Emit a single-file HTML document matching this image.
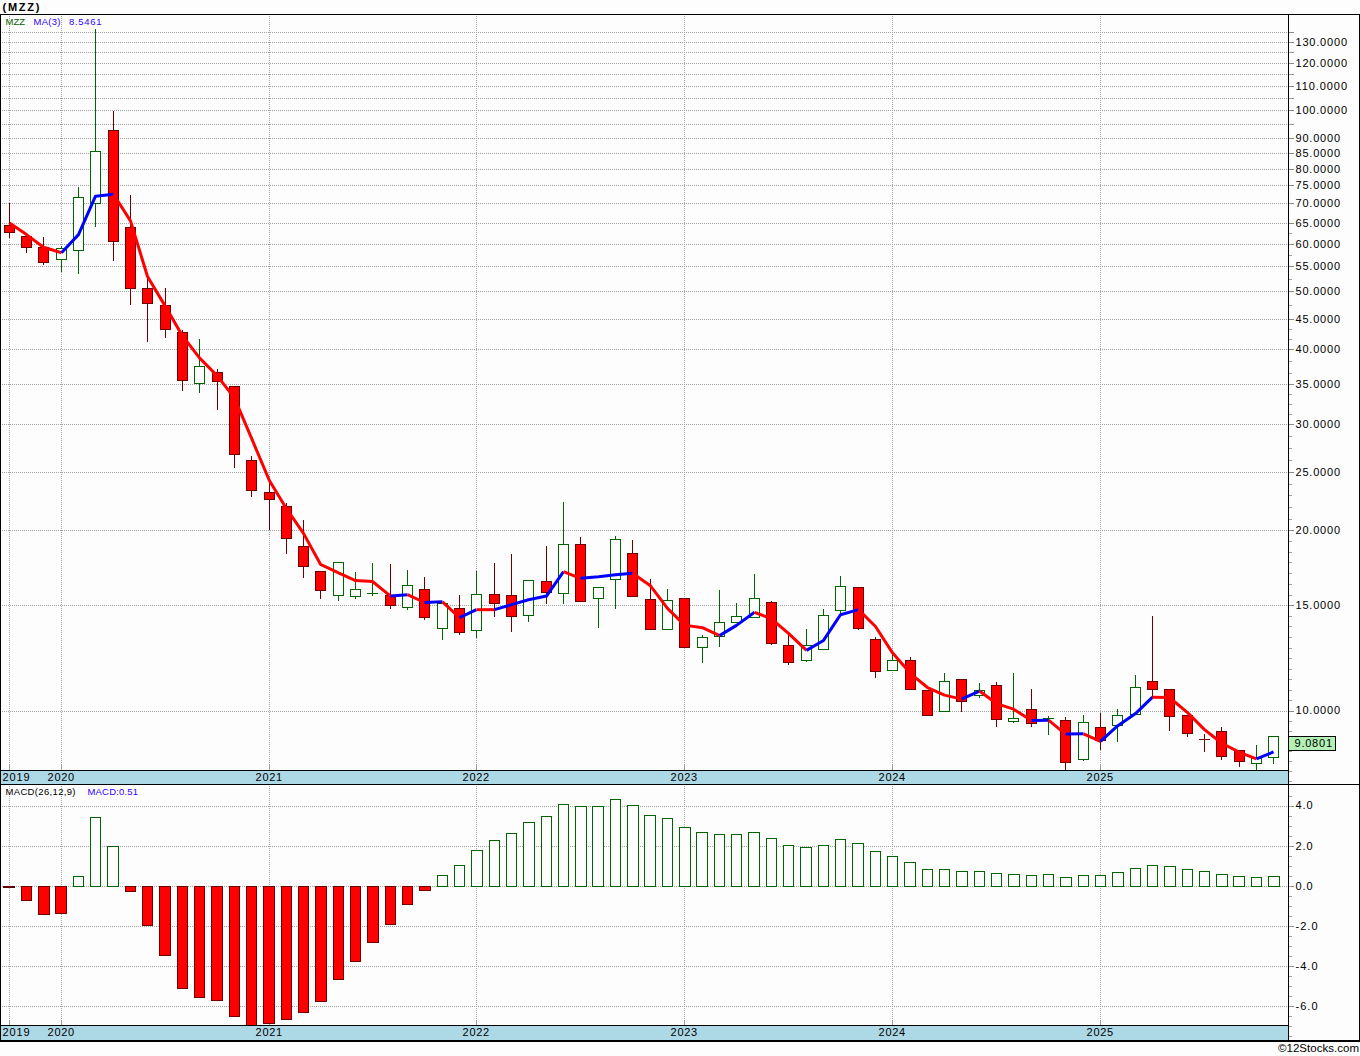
<!DOCTYPE html>
<html><head><meta charset="utf-8"><title>MZZ</title>
<style>html,body{margin:0;padding:0;background:#fdfdfd;}body{width:1360px;height:1056px;overflow:hidden;font-family:"Liberation Sans",sans-serif;}</style>
</head><body>
<svg width="1360" height="1056" viewBox="0 0 1360 1056" style="display:block;font-family:'Liberation Sans',sans-serif">
<rect x="0" y="0" width="1360" height="1056" fill="#fdfdfd"/>
<g shape-rendering="crispEdges">
<line x1="2" x2="1288" y1="711.5" y2="711.5" stroke="#a4a4a4" stroke-width="1" stroke-dasharray="1 1"/>
<line x1="1289" x2="1294" y1="711.5" y2="711.5" stroke="#8c8c8c" stroke-width="1"/>
<line x1="2" x2="1288" y1="605.5" y2="605.5" stroke="#a4a4a4" stroke-width="1" stroke-dasharray="1 1"/>
<line x1="1289" x2="1294" y1="605.5" y2="605.5" stroke="#8c8c8c" stroke-width="1"/>
<line x1="2" x2="1288" y1="530.5" y2="530.5" stroke="#a4a4a4" stroke-width="1" stroke-dasharray="1 1"/>
<line x1="1289" x2="1294" y1="530.5" y2="530.5" stroke="#8c8c8c" stroke-width="1"/>
<line x1="2" x2="1288" y1="472.5" y2="472.5" stroke="#a4a4a4" stroke-width="1" stroke-dasharray="1 1"/>
<line x1="1289" x2="1294" y1="472.5" y2="472.5" stroke="#8c8c8c" stroke-width="1"/>
<line x1="2" x2="1288" y1="424.5" y2="424.5" stroke="#a4a4a4" stroke-width="1" stroke-dasharray="1 1"/>
<line x1="1289" x2="1294" y1="424.5" y2="424.5" stroke="#8c8c8c" stroke-width="1"/>
<line x1="2" x2="1288" y1="384.5" y2="384.5" stroke="#a4a4a4" stroke-width="1" stroke-dasharray="1 1"/>
<line x1="1289" x2="1294" y1="384.5" y2="384.5" stroke="#8c8c8c" stroke-width="1"/>
<line x1="2" x2="1288" y1="349.5" y2="349.5" stroke="#a4a4a4" stroke-width="1" stroke-dasharray="1 1"/>
<line x1="1289" x2="1294" y1="349.5" y2="349.5" stroke="#8c8c8c" stroke-width="1"/>
<line x1="2" x2="1288" y1="319.5" y2="319.5" stroke="#a4a4a4" stroke-width="1" stroke-dasharray="1 1"/>
<line x1="1289" x2="1294" y1="319.5" y2="319.5" stroke="#8c8c8c" stroke-width="1"/>
<line x1="2" x2="1288" y1="291.5" y2="291.5" stroke="#a4a4a4" stroke-width="1" stroke-dasharray="1 1"/>
<line x1="1289" x2="1294" y1="291.5" y2="291.5" stroke="#8c8c8c" stroke-width="1"/>
<line x1="2" x2="1288" y1="266.5" y2="266.5" stroke="#a4a4a4" stroke-width="1" stroke-dasharray="1 1"/>
<line x1="1289" x2="1294" y1="266.5" y2="266.5" stroke="#8c8c8c" stroke-width="1"/>
<line x1="2" x2="1288" y1="244.5" y2="244.5" stroke="#a4a4a4" stroke-width="1" stroke-dasharray="1 1"/>
<line x1="1289" x2="1294" y1="244.5" y2="244.5" stroke="#8c8c8c" stroke-width="1"/>
<line x1="2" x2="1288" y1="223.5" y2="223.5" stroke="#a4a4a4" stroke-width="1" stroke-dasharray="1 1"/>
<line x1="1289" x2="1294" y1="223.5" y2="223.5" stroke="#8c8c8c" stroke-width="1"/>
<line x1="2" x2="1288" y1="203.5" y2="203.5" stroke="#a4a4a4" stroke-width="1" stroke-dasharray="1 1"/>
<line x1="1289" x2="1294" y1="203.5" y2="203.5" stroke="#8c8c8c" stroke-width="1"/>
<line x1="2" x2="1288" y1="185.5" y2="185.5" stroke="#a4a4a4" stroke-width="1" stroke-dasharray="1 1"/>
<line x1="1289" x2="1294" y1="185.5" y2="185.5" stroke="#8c8c8c" stroke-width="1"/>
<line x1="2" x2="1288" y1="169.5" y2="169.5" stroke="#a4a4a4" stroke-width="1" stroke-dasharray="1 1"/>
<line x1="1289" x2="1294" y1="169.5" y2="169.5" stroke="#8c8c8c" stroke-width="1"/>
<line x1="2" x2="1288" y1="153.5" y2="153.5" stroke="#a4a4a4" stroke-width="1" stroke-dasharray="1 1"/>
<line x1="1289" x2="1294" y1="153.5" y2="153.5" stroke="#8c8c8c" stroke-width="1"/>
<line x1="2" x2="1288" y1="138.5" y2="138.5" stroke="#a4a4a4" stroke-width="1" stroke-dasharray="1 1"/>
<line x1="1289" x2="1294" y1="138.5" y2="138.5" stroke="#8c8c8c" stroke-width="1"/>
<line x1="2" x2="1288" y1="124.5" y2="124.5" stroke="#a4a4a4" stroke-width="1" stroke-dasharray="1 1"/>
<line x1="1289" x2="1294" y1="124.5" y2="124.5" stroke="#8c8c8c" stroke-width="1"/>
<line x1="2" x2="1288" y1="110.5" y2="110.5" stroke="#a4a4a4" stroke-width="1" stroke-dasharray="1 1"/>
<line x1="1289" x2="1294" y1="110.5" y2="110.5" stroke="#8c8c8c" stroke-width="1"/>
<line x1="2" x2="1288" y1="98.5" y2="98.5" stroke="#a4a4a4" stroke-width="1" stroke-dasharray="1 1"/>
<line x1="1289" x2="1294" y1="98.5" y2="98.5" stroke="#8c8c8c" stroke-width="1"/>
<line x1="2" x2="1288" y1="86.5" y2="86.5" stroke="#a4a4a4" stroke-width="1" stroke-dasharray="1 1"/>
<line x1="1289" x2="1294" y1="86.5" y2="86.5" stroke="#8c8c8c" stroke-width="1"/>
<line x1="2" x2="1288" y1="74.5" y2="74.5" stroke="#a4a4a4" stroke-width="1" stroke-dasharray="1 1"/>
<line x1="1289" x2="1294" y1="74.5" y2="74.5" stroke="#8c8c8c" stroke-width="1"/>
<line x1="2" x2="1288" y1="63.5" y2="63.5" stroke="#a4a4a4" stroke-width="1" stroke-dasharray="1 1"/>
<line x1="1289" x2="1294" y1="63.5" y2="63.5" stroke="#8c8c8c" stroke-width="1"/>
<line x1="2" x2="1288" y1="52.5" y2="52.5" stroke="#a4a4a4" stroke-width="1" stroke-dasharray="1 1"/>
<line x1="1289" x2="1294" y1="52.5" y2="52.5" stroke="#8c8c8c" stroke-width="1"/>
<line x1="2" x2="1288" y1="42.5" y2="42.5" stroke="#a4a4a4" stroke-width="1" stroke-dasharray="1 1"/>
<line x1="1289" x2="1294" y1="42.5" y2="42.5" stroke="#8c8c8c" stroke-width="1"/>
<line x1="2" x2="1288" y1="32.5" y2="32.5" stroke="#a4a4a4" stroke-width="1" stroke-dasharray="1 1"/>
<line x1="1289" x2="1294" y1="32.5" y2="32.5" stroke="#8c8c8c" stroke-width="1"/>
<line x1="2" x2="1288" y1="806.5" y2="806.5" stroke="#a4a4a4" stroke-width="1" stroke-dasharray="1 1"/>
<line x1="1289" x2="1294" y1="806.5" y2="806.5" stroke="#8c8c8c" stroke-width="1"/>
<line x1="2" x2="1288" y1="846.5" y2="846.5" stroke="#a4a4a4" stroke-width="1" stroke-dasharray="1 1"/>
<line x1="1289" x2="1294" y1="846.5" y2="846.5" stroke="#8c8c8c" stroke-width="1"/>
<line x1="2" x2="1288" y1="886.5" y2="886.5" stroke="#a4a4a4" stroke-width="1" stroke-dasharray="1 1"/>
<line x1="1289" x2="1294" y1="886.5" y2="886.5" stroke="#8c8c8c" stroke-width="1"/>
<line x1="2" x2="1288" y1="926.5" y2="926.5" stroke="#a4a4a4" stroke-width="1" stroke-dasharray="1 1"/>
<line x1="1289" x2="1294" y1="926.5" y2="926.5" stroke="#8c8c8c" stroke-width="1"/>
<line x1="2" x2="1288" y1="966.5" y2="966.5" stroke="#a4a4a4" stroke-width="1" stroke-dasharray="1 1"/>
<line x1="1289" x2="1294" y1="966.5" y2="966.5" stroke="#8c8c8c" stroke-width="1"/>
<line x1="2" x2="1288" y1="1006.5" y2="1006.5" stroke="#a4a4a4" stroke-width="1" stroke-dasharray="1 1"/>
<line x1="1289" x2="1294" y1="1006.5" y2="1006.5" stroke="#8c8c8c" stroke-width="1"/>
<line x1="9.5" x2="9.5" y1="16" y2="770" stroke="#a4a4a4" stroke-width="1" stroke-dasharray="1 1"/>
<line x1="9.5" x2="9.5" y1="786" y2="1025" stroke="#a4a4a4" stroke-width="1" stroke-dasharray="1 1"/>
<line x1="9.5" x2="9.5" y1="765" y2="770" stroke="#a0a0a0" stroke-width="1"/>
<line x1="9.5" x2="9.5" y1="1020" y2="1025" stroke="#a0a0a0" stroke-width="1"/>
<line x1="61.5" x2="61.5" y1="16" y2="770" stroke="#a4a4a4" stroke-width="1" stroke-dasharray="1 1"/>
<line x1="61.5" x2="61.5" y1="786" y2="1025" stroke="#a4a4a4" stroke-width="1" stroke-dasharray="1 1"/>
<line x1="61.5" x2="61.5" y1="765" y2="770" stroke="#a0a0a0" stroke-width="1"/>
<line x1="61.5" x2="61.5" y1="1020" y2="1025" stroke="#a0a0a0" stroke-width="1"/>
<line x1="269.5" x2="269.5" y1="16" y2="770" stroke="#a4a4a4" stroke-width="1" stroke-dasharray="1 1"/>
<line x1="269.5" x2="269.5" y1="786" y2="1025" stroke="#a4a4a4" stroke-width="1" stroke-dasharray="1 1"/>
<line x1="269.5" x2="269.5" y1="765" y2="770" stroke="#a0a0a0" stroke-width="1"/>
<line x1="269.5" x2="269.5" y1="1020" y2="1025" stroke="#a0a0a0" stroke-width="1"/>
<line x1="476.5" x2="476.5" y1="16" y2="770" stroke="#a4a4a4" stroke-width="1" stroke-dasharray="1 1"/>
<line x1="476.5" x2="476.5" y1="786" y2="1025" stroke="#a4a4a4" stroke-width="1" stroke-dasharray="1 1"/>
<line x1="476.5" x2="476.5" y1="765" y2="770" stroke="#a0a0a0" stroke-width="1"/>
<line x1="476.5" x2="476.5" y1="1020" y2="1025" stroke="#a0a0a0" stroke-width="1"/>
<line x1="684.5" x2="684.5" y1="16" y2="770" stroke="#a4a4a4" stroke-width="1" stroke-dasharray="1 1"/>
<line x1="684.5" x2="684.5" y1="786" y2="1025" stroke="#a4a4a4" stroke-width="1" stroke-dasharray="1 1"/>
<line x1="684.5" x2="684.5" y1="765" y2="770" stroke="#a0a0a0" stroke-width="1"/>
<line x1="684.5" x2="684.5" y1="1020" y2="1025" stroke="#a0a0a0" stroke-width="1"/>
<line x1="892.5" x2="892.5" y1="16" y2="770" stroke="#a4a4a4" stroke-width="1" stroke-dasharray="1 1"/>
<line x1="892.5" x2="892.5" y1="786" y2="1025" stroke="#a4a4a4" stroke-width="1" stroke-dasharray="1 1"/>
<line x1="892.5" x2="892.5" y1="765" y2="770" stroke="#a0a0a0" stroke-width="1"/>
<line x1="892.5" x2="892.5" y1="1020" y2="1025" stroke="#a0a0a0" stroke-width="1"/>
<line x1="1100.5" x2="1100.5" y1="16" y2="770" stroke="#a4a4a4" stroke-width="1" stroke-dasharray="1 1"/>
<line x1="1100.5" x2="1100.5" y1="786" y2="1025" stroke="#a4a4a4" stroke-width="1" stroke-dasharray="1 1"/>
<line x1="1100.5" x2="1100.5" y1="765" y2="770" stroke="#a0a0a0" stroke-width="1"/>
<line x1="1100.5" x2="1100.5" y1="1020" y2="1025" stroke="#a0a0a0" stroke-width="1"/>
</g>
<g shape-rendering="crispEdges">
<rect x="3" y="886" width="12" height="2" fill="#600000"/>
<rect x="21.5" y="886.5" width="10" height="14" fill="#ff0000" stroke="#700000" stroke-width="1"/>
<rect x="38.5" y="886.5" width="11" height="28" fill="#ff0000" stroke="#700000" stroke-width="1"/>
<rect x="55.5" y="886.5" width="11" height="27" fill="#ff0000" stroke="#700000" stroke-width="1"/>
<rect x="73.5" y="876.5" width="10" height="10" fill="#fdfdfd" stroke="#006400" stroke-width="1"/>
<rect x="90.5" y="817.5" width="10" height="69" fill="#fdfdfd" stroke="#006400" stroke-width="1"/>
<rect x="107.5" y="846.5" width="11" height="40" fill="#fdfdfd" stroke="#006400" stroke-width="1"/>
<rect x="125.5" y="886.5" width="10" height="5" fill="#ff0000" stroke="#700000" stroke-width="1"/>
<rect x="142.5" y="886.5" width="10" height="39" fill="#ff0000" stroke="#700000" stroke-width="1"/>
<rect x="159.5" y="886.5" width="11" height="69" fill="#ff0000" stroke="#700000" stroke-width="1"/>
<rect x="177.5" y="886.5" width="10" height="102" fill="#ff0000" stroke="#700000" stroke-width="1"/>
<rect x="194.5" y="886.5" width="10" height="111" fill="#ff0000" stroke="#700000" stroke-width="1"/>
<rect x="211.5" y="886.5" width="11" height="114" fill="#ff0000" stroke="#700000" stroke-width="1"/>
<rect x="229.5" y="886.5" width="10" height="130" fill="#ff0000" stroke="#700000" stroke-width="1"/>
<rect x="246.5" y="886.5" width="10" height="140" fill="#ff0000" stroke="#700000" stroke-width="1"/>
<rect x="263.5" y="886.5" width="11" height="137" fill="#ff0000" stroke="#700000" stroke-width="1"/>
<rect x="281.5" y="886.5" width="10" height="133" fill="#ff0000" stroke="#700000" stroke-width="1"/>
<rect x="298.5" y="886.5" width="10" height="126" fill="#ff0000" stroke="#700000" stroke-width="1"/>
<rect x="315.5" y="886.5" width="11" height="115" fill="#ff0000" stroke="#700000" stroke-width="1"/>
<rect x="333.5" y="886.5" width="10" height="93" fill="#ff0000" stroke="#700000" stroke-width="1"/>
<rect x="350.5" y="886.5" width="10" height="75" fill="#ff0000" stroke="#700000" stroke-width="1"/>
<rect x="367.5" y="886.5" width="11" height="56" fill="#ff0000" stroke="#700000" stroke-width="1"/>
<rect x="385.5" y="886.5" width="10" height="38" fill="#ff0000" stroke="#700000" stroke-width="1"/>
<rect x="402.5" y="886.5" width="10" height="18" fill="#ff0000" stroke="#700000" stroke-width="1"/>
<rect x="419.5" y="886.5" width="11" height="4" fill="#ff0000" stroke="#700000" stroke-width="1"/>
<rect x="437.5" y="875.5" width="10" height="11" fill="#fdfdfd" stroke="#006400" stroke-width="1"/>
<rect x="454.5" y="865.5" width="10" height="21" fill="#fdfdfd" stroke="#006400" stroke-width="1"/>
<rect x="471.5" y="850.5" width="11" height="36" fill="#fdfdfd" stroke="#006400" stroke-width="1"/>
<rect x="489.5" y="840.5" width="10" height="46" fill="#fdfdfd" stroke="#006400" stroke-width="1"/>
<rect x="506.5" y="833.5" width="10" height="53" fill="#fdfdfd" stroke="#006400" stroke-width="1"/>
<rect x="523.5" y="822.5" width="11" height="64" fill="#fdfdfd" stroke="#006400" stroke-width="1"/>
<rect x="541.5" y="816.5" width="10" height="70" fill="#fdfdfd" stroke="#006400" stroke-width="1"/>
<rect x="558.5" y="804.5" width="10" height="82" fill="#fdfdfd" stroke="#006400" stroke-width="1"/>
<rect x="575.5" y="806.5" width="11" height="80" fill="#fdfdfd" stroke="#006400" stroke-width="1"/>
<rect x="592.5" y="806.5" width="11" height="80" fill="#fdfdfd" stroke="#006400" stroke-width="1"/>
<rect x="610.5" y="799.5" width="10" height="87" fill="#fdfdfd" stroke="#006400" stroke-width="1"/>
<rect x="627.5" y="805.5" width="11" height="81" fill="#fdfdfd" stroke="#006400" stroke-width="1"/>
<rect x="644.5" y="815.5" width="11" height="71" fill="#fdfdfd" stroke="#006400" stroke-width="1"/>
<rect x="662.5" y="818.5" width="10" height="68" fill="#fdfdfd" stroke="#006400" stroke-width="1"/>
<rect x="679.5" y="827.5" width="11" height="59" fill="#fdfdfd" stroke="#006400" stroke-width="1"/>
<rect x="696.5" y="832.5" width="11" height="54" fill="#fdfdfd" stroke="#006400" stroke-width="1"/>
<rect x="714.5" y="834.5" width="10" height="52" fill="#fdfdfd" stroke="#006400" stroke-width="1"/>
<rect x="731.5" y="834.5" width="10" height="52" fill="#fdfdfd" stroke="#006400" stroke-width="1"/>
<rect x="748.5" y="832.5" width="11" height="54" fill="#fdfdfd" stroke="#006400" stroke-width="1"/>
<rect x="766.5" y="838.5" width="10" height="48" fill="#fdfdfd" stroke="#006400" stroke-width="1"/>
<rect x="783.5" y="845.5" width="10" height="41" fill="#fdfdfd" stroke="#006400" stroke-width="1"/>
<rect x="800.5" y="847.5" width="11" height="39" fill="#fdfdfd" stroke="#006400" stroke-width="1"/>
<rect x="818.5" y="845.5" width="10" height="41" fill="#fdfdfd" stroke="#006400" stroke-width="1"/>
<rect x="835.5" y="839.5" width="10" height="47" fill="#fdfdfd" stroke="#006400" stroke-width="1"/>
<rect x="852.5" y="843.5" width="11" height="43" fill="#fdfdfd" stroke="#006400" stroke-width="1"/>
<rect x="870.5" y="851.5" width="10" height="35" fill="#fdfdfd" stroke="#006400" stroke-width="1"/>
<rect x="887.5" y="856.5" width="10" height="30" fill="#fdfdfd" stroke="#006400" stroke-width="1"/>
<rect x="904.5" y="862.5" width="11" height="24" fill="#fdfdfd" stroke="#006400" stroke-width="1"/>
<rect x="922.5" y="869.5" width="10" height="17" fill="#fdfdfd" stroke="#006400" stroke-width="1"/>
<rect x="939.5" y="869.5" width="10" height="17" fill="#fdfdfd" stroke="#006400" stroke-width="1"/>
<rect x="956.5" y="871.5" width="11" height="15" fill="#fdfdfd" stroke="#006400" stroke-width="1"/>
<rect x="974.5" y="871.5" width="10" height="15" fill="#fdfdfd" stroke="#006400" stroke-width="1"/>
<rect x="991.5" y="873.5" width="10" height="13" fill="#fdfdfd" stroke="#006400" stroke-width="1"/>
<rect x="1008.5" y="874.5" width="11" height="12" fill="#fdfdfd" stroke="#006400" stroke-width="1"/>
<rect x="1026.5" y="875.5" width="10" height="11" fill="#fdfdfd" stroke="#006400" stroke-width="1"/>
<rect x="1043.5" y="874.5" width="10" height="12" fill="#fdfdfd" stroke="#006400" stroke-width="1"/>
<rect x="1060.5" y="877.5" width="11" height="9" fill="#fdfdfd" stroke="#006400" stroke-width="1"/>
<rect x="1078.5" y="875.5" width="10" height="11" fill="#fdfdfd" stroke="#006400" stroke-width="1"/>
<rect x="1095.5" y="875.5" width="10" height="11" fill="#fdfdfd" stroke="#006400" stroke-width="1"/>
<rect x="1112.5" y="872.5" width="11" height="14" fill="#fdfdfd" stroke="#006400" stroke-width="1"/>
<rect x="1130.5" y="868.5" width="10" height="18" fill="#fdfdfd" stroke="#006400" stroke-width="1"/>
<rect x="1147.5" y="865.5" width="10" height="21" fill="#fdfdfd" stroke="#006400" stroke-width="1"/>
<rect x="1164.5" y="866.5" width="11" height="20" fill="#fdfdfd" stroke="#006400" stroke-width="1"/>
<rect x="1182.5" y="869.5" width="10" height="17" fill="#fdfdfd" stroke="#006400" stroke-width="1"/>
<rect x="1199.5" y="871.5" width="10" height="15" fill="#fdfdfd" stroke="#006400" stroke-width="1"/>
<rect x="1216.5" y="874.5" width="11" height="12" fill="#fdfdfd" stroke="#006400" stroke-width="1"/>
<rect x="1233.5" y="876.5" width="11" height="10" fill="#fdfdfd" stroke="#006400" stroke-width="1"/>
<rect x="1251.5" y="877.5" width="10" height="9" fill="#fdfdfd" stroke="#006400" stroke-width="1"/>
<rect x="1268.5" y="876.5" width="11" height="10" fill="#fdfdfd" stroke="#006400" stroke-width="1"/>
</g>
<g shape-rendering="crispEdges">
<line x1="9.5" x2="9.5" y1="203" y2="225" stroke="#700000" stroke-width="1"/>
<line x1="9.5" x2="9.5" y1="233" y2="238" stroke="#700000" stroke-width="1"/>
<rect x="4.5" y="225.5" width="10" height="7" fill="#ff0000" stroke="#700000" stroke-width="1"/>
<line x1="26.5" x2="26.5" y1="248" y2="253" stroke="#700000" stroke-width="1"/>
<rect x="21.5" y="236.5" width="10" height="11" fill="#ff0000" stroke="#700000" stroke-width="1"/>
<line x1="43.5" x2="43.5" y1="237" y2="247" stroke="#700000" stroke-width="1"/>
<line x1="43.5" x2="43.5" y1="263" y2="265" stroke="#700000" stroke-width="1"/>
<rect x="38.5" y="247.5" width="10" height="15" fill="#ff0000" stroke="#700000" stroke-width="1"/>
<line x1="61.5" x2="61.5" y1="246" y2="248" stroke="#006400" stroke-width="1"/>
<line x1="61.5" x2="61.5" y1="260" y2="272" stroke="#006400" stroke-width="1"/>
<rect x="56.5" y="248.5" width="10" height="11" fill="#fdfdfd" stroke="#006400" stroke-width="1"/>
<line x1="78.5" x2="78.5" y1="187" y2="197" stroke="#006400" stroke-width="1"/>
<line x1="78.5" x2="78.5" y1="251" y2="274" stroke="#006400" stroke-width="1"/>
<rect x="73.5" y="197.5" width="10" height="53" fill="#fdfdfd" stroke="#006400" stroke-width="1"/>
<line x1="95.5" x2="95.5" y1="29" y2="151" stroke="#006400" stroke-width="1"/>
<line x1="95.5" x2="95.5" y1="204" y2="227" stroke="#006400" stroke-width="1"/>
<rect x="90.5" y="151.5" width="10" height="52" fill="#fdfdfd" stroke="#006400" stroke-width="1"/>
<line x1="113.5" x2="113.5" y1="111" y2="130" stroke="#700000" stroke-width="1"/>
<line x1="113.5" x2="113.5" y1="242" y2="261" stroke="#700000" stroke-width="1"/>
<rect x="108.5" y="130.5" width="10" height="111" fill="#ff0000" stroke="#700000" stroke-width="1"/>
<line x1="130.5" x2="130.5" y1="195" y2="227" stroke="#700000" stroke-width="1"/>
<line x1="130.5" x2="130.5" y1="289" y2="305" stroke="#700000" stroke-width="1"/>
<rect x="125.5" y="227.5" width="10" height="61" fill="#ff0000" stroke="#700000" stroke-width="1"/>
<line x1="147.5" x2="147.5" y1="277" y2="288" stroke="#700000" stroke-width="1"/>
<line x1="147.5" x2="147.5" y1="304" y2="342" stroke="#700000" stroke-width="1"/>
<rect x="142.5" y="288.5" width="10" height="15" fill="#ff0000" stroke="#700000" stroke-width="1"/>
<line x1="165.5" x2="165.5" y1="288" y2="305" stroke="#700000" stroke-width="1"/>
<line x1="165.5" x2="165.5" y1="330" y2="338" stroke="#700000" stroke-width="1"/>
<rect x="160.5" y="305.5" width="10" height="24" fill="#ff0000" stroke="#700000" stroke-width="1"/>
<line x1="182.5" x2="182.5" y1="330" y2="332" stroke="#700000" stroke-width="1"/>
<line x1="182.5" x2="182.5" y1="381" y2="391" stroke="#700000" stroke-width="1"/>
<rect x="177.5" y="332.5" width="10" height="48" fill="#ff0000" stroke="#700000" stroke-width="1"/>
<line x1="199.5" x2="199.5" y1="339" y2="366" stroke="#006400" stroke-width="1"/>
<line x1="199.5" x2="199.5" y1="384" y2="393" stroke="#006400" stroke-width="1"/>
<rect x="194.5" y="366.5" width="10" height="17" fill="#fdfdfd" stroke="#006400" stroke-width="1"/>
<line x1="217.5" x2="217.5" y1="369" y2="372" stroke="#700000" stroke-width="1"/>
<line x1="217.5" x2="217.5" y1="382" y2="410" stroke="#700000" stroke-width="1"/>
<rect x="212.5" y="372.5" width="10" height="9" fill="#ff0000" stroke="#700000" stroke-width="1"/>
<line x1="234.5" x2="234.5" y1="455" y2="468" stroke="#700000" stroke-width="1"/>
<rect x="229.5" y="386.5" width="10" height="68" fill="#ff0000" stroke="#700000" stroke-width="1"/>
<line x1="251.5" x2="251.5" y1="456" y2="460" stroke="#700000" stroke-width="1"/>
<line x1="251.5" x2="251.5" y1="491" y2="497" stroke="#700000" stroke-width="1"/>
<rect x="246.5" y="460.5" width="10" height="30" fill="#ff0000" stroke="#700000" stroke-width="1"/>
<line x1="269.5" x2="269.5" y1="482" y2="492" stroke="#700000" stroke-width="1"/>
<line x1="269.5" x2="269.5" y1="500" y2="530" stroke="#700000" stroke-width="1"/>
<rect x="264.5" y="492.5" width="10" height="7" fill="#ff0000" stroke="#700000" stroke-width="1"/>
<line x1="286.5" x2="286.5" y1="503" y2="506" stroke="#700000" stroke-width="1"/>
<line x1="286.5" x2="286.5" y1="539" y2="554" stroke="#700000" stroke-width="1"/>
<rect x="281.5" y="506.5" width="10" height="32" fill="#ff0000" stroke="#700000" stroke-width="1"/>
<line x1="303.5" x2="303.5" y1="520" y2="546" stroke="#700000" stroke-width="1"/>
<line x1="303.5" x2="303.5" y1="567" y2="578" stroke="#700000" stroke-width="1"/>
<rect x="298.5" y="546.5" width="10" height="20" fill="#ff0000" stroke="#700000" stroke-width="1"/>
<line x1="320.5" x2="320.5" y1="591" y2="599" stroke="#700000" stroke-width="1"/>
<rect x="315.5" y="571.5" width="10" height="19" fill="#ff0000" stroke="#700000" stroke-width="1"/>
<line x1="338.5" x2="338.5" y1="596" y2="601" stroke="#006400" stroke-width="1"/>
<rect x="333.5" y="562.5" width="10" height="33" fill="#fdfdfd" stroke="#006400" stroke-width="1"/>
<line x1="355.5" x2="355.5" y1="572" y2="589" stroke="#006400" stroke-width="1"/>
<line x1="355.5" x2="355.5" y1="597" y2="599" stroke="#006400" stroke-width="1"/>
<rect x="350.5" y="589.5" width="10" height="7" fill="#fdfdfd" stroke="#006400" stroke-width="1"/>
<line x1="372.5" x2="372.5" y1="563" y2="593" stroke="#006400" stroke-width="1"/>
<line x1="372.5" x2="372.5" y1="594" y2="596" stroke="#006400" stroke-width="1"/>
<line x1="367" x2="378" y1="593.5" y2="593.5" stroke="#006400" stroke-width="1"/>
<line x1="390.5" x2="390.5" y1="564" y2="595" stroke="#700000" stroke-width="1"/>
<line x1="390.5" x2="390.5" y1="606" y2="609" stroke="#700000" stroke-width="1"/>
<rect x="385.5" y="595.5" width="10" height="10" fill="#ff0000" stroke="#700000" stroke-width="1"/>
<line x1="407.5" x2="407.5" y1="570" y2="585" stroke="#006400" stroke-width="1"/>
<line x1="407.5" x2="407.5" y1="608" y2="610" stroke="#006400" stroke-width="1"/>
<rect x="402.5" y="585.5" width="10" height="22" fill="#fdfdfd" stroke="#006400" stroke-width="1"/>
<line x1="424.5" x2="424.5" y1="577" y2="589" stroke="#700000" stroke-width="1"/>
<line x1="424.5" x2="424.5" y1="618" y2="620" stroke="#700000" stroke-width="1"/>
<rect x="419.5" y="589.5" width="10" height="28" fill="#ff0000" stroke="#700000" stroke-width="1"/>
<line x1="442.5" x2="442.5" y1="629" y2="640" stroke="#006400" stroke-width="1"/>
<rect x="437.5" y="603.5" width="10" height="25" fill="#fdfdfd" stroke="#006400" stroke-width="1"/>
<line x1="459.5" x2="459.5" y1="595" y2="608" stroke="#700000" stroke-width="1"/>
<line x1="459.5" x2="459.5" y1="633" y2="635" stroke="#700000" stroke-width="1"/>
<rect x="454.5" y="608.5" width="10" height="24" fill="#ff0000" stroke="#700000" stroke-width="1"/>
<line x1="476.5" x2="476.5" y1="571" y2="594" stroke="#006400" stroke-width="1"/>
<line x1="476.5" x2="476.5" y1="631" y2="638" stroke="#006400" stroke-width="1"/>
<rect x="471.5" y="594.5" width="10" height="36" fill="#fdfdfd" stroke="#006400" stroke-width="1"/>
<line x1="494.5" x2="494.5" y1="563" y2="594" stroke="#700000" stroke-width="1"/>
<line x1="494.5" x2="494.5" y1="604" y2="617" stroke="#700000" stroke-width="1"/>
<rect x="489.5" y="594.5" width="10" height="9" fill="#ff0000" stroke="#700000" stroke-width="1"/>
<line x1="511.5" x2="511.5" y1="554" y2="595" stroke="#700000" stroke-width="1"/>
<line x1="511.5" x2="511.5" y1="617" y2="632" stroke="#700000" stroke-width="1"/>
<rect x="506.5" y="595.5" width="10" height="21" fill="#ff0000" stroke="#700000" stroke-width="1"/>
<line x1="528.5" x2="528.5" y1="616" y2="622" stroke="#006400" stroke-width="1"/>
<rect x="523.5" y="580.5" width="10" height="35" fill="#fdfdfd" stroke="#006400" stroke-width="1"/>
<line x1="546.5" x2="546.5" y1="546" y2="581" stroke="#700000" stroke-width="1"/>
<line x1="546.5" x2="546.5" y1="593" y2="604" stroke="#700000" stroke-width="1"/>
<rect x="541.5" y="581.5" width="10" height="11" fill="#ff0000" stroke="#700000" stroke-width="1"/>
<line x1="563.5" x2="563.5" y1="502" y2="544" stroke="#006400" stroke-width="1"/>
<line x1="563.5" x2="563.5" y1="594" y2="604" stroke="#006400" stroke-width="1"/>
<rect x="558.5" y="544.5" width="10" height="49" fill="#fdfdfd" stroke="#006400" stroke-width="1"/>
<line x1="580.5" x2="580.5" y1="537" y2="544" stroke="#700000" stroke-width="1"/>
<rect x="575.5" y="544.5" width="10" height="57" fill="#ff0000" stroke="#700000" stroke-width="1"/>
<line x1="598.5" x2="598.5" y1="599" y2="628" stroke="#006400" stroke-width="1"/>
<rect x="593.5" y="587.5" width="10" height="11" fill="#fdfdfd" stroke="#006400" stroke-width="1"/>
<line x1="615.5" x2="615.5" y1="536" y2="539" stroke="#006400" stroke-width="1"/>
<line x1="615.5" x2="615.5" y1="580" y2="609" stroke="#006400" stroke-width="1"/>
<rect x="610.5" y="539.5" width="10" height="40" fill="#fdfdfd" stroke="#006400" stroke-width="1"/>
<line x1="632.5" x2="632.5" y1="540" y2="553" stroke="#700000" stroke-width="1"/>
<rect x="627.5" y="553.5" width="10" height="43" fill="#ff0000" stroke="#700000" stroke-width="1"/>
<line x1="650.5" x2="650.5" y1="579" y2="599" stroke="#700000" stroke-width="1"/>
<rect x="645.5" y="599.5" width="10" height="30" fill="#ff0000" stroke="#700000" stroke-width="1"/>
<line x1="667.5" x2="667.5" y1="589" y2="600" stroke="#006400" stroke-width="1"/>
<rect x="662.5" y="600.5" width="10" height="29" fill="#fdfdfd" stroke="#006400" stroke-width="1"/>
<rect x="679.5" y="598.5" width="10" height="49" fill="#ff0000" stroke="#700000" stroke-width="1"/>
<line x1="702.5" x2="702.5" y1="635" y2="637" stroke="#006400" stroke-width="1"/>
<line x1="702.5" x2="702.5" y1="648" y2="663" stroke="#006400" stroke-width="1"/>
<rect x="697.5" y="637.5" width="10" height="10" fill="#fdfdfd" stroke="#006400" stroke-width="1"/>
<line x1="719.5" x2="719.5" y1="590" y2="622" stroke="#006400" stroke-width="1"/>
<line x1="719.5" x2="719.5" y1="637" y2="647" stroke="#006400" stroke-width="1"/>
<rect x="714.5" y="622.5" width="10" height="14" fill="#fdfdfd" stroke="#006400" stroke-width="1"/>
<line x1="736.5" x2="736.5" y1="603" y2="616" stroke="#006400" stroke-width="1"/>
<rect x="731.5" y="616.5" width="10" height="6" fill="#fdfdfd" stroke="#006400" stroke-width="1"/>
<line x1="754.5" x2="754.5" y1="574" y2="598" stroke="#006400" stroke-width="1"/>
<rect x="749.5" y="598.5" width="10" height="19" fill="#fdfdfd" stroke="#006400" stroke-width="1"/>
<line x1="771.5" x2="771.5" y1="601" y2="602" stroke="#700000" stroke-width="1"/>
<line x1="771.5" x2="771.5" y1="644" y2="645" stroke="#700000" stroke-width="1"/>
<rect x="766.5" y="602.5" width="10" height="41" fill="#ff0000" stroke="#700000" stroke-width="1"/>
<line x1="788.5" x2="788.5" y1="635" y2="645" stroke="#700000" stroke-width="1"/>
<line x1="788.5" x2="788.5" y1="663" y2="665" stroke="#700000" stroke-width="1"/>
<rect x="783.5" y="645.5" width="10" height="17" fill="#ff0000" stroke="#700000" stroke-width="1"/>
<line x1="806.5" x2="806.5" y1="629" y2="645" stroke="#006400" stroke-width="1"/>
<line x1="806.5" x2="806.5" y1="661" y2="662" stroke="#006400" stroke-width="1"/>
<rect x="801.5" y="645.5" width="10" height="15" fill="#fdfdfd" stroke="#006400" stroke-width="1"/>
<line x1="823.5" x2="823.5" y1="609" y2="615" stroke="#006400" stroke-width="1"/>
<rect x="818.5" y="615.5" width="10" height="34" fill="#fdfdfd" stroke="#006400" stroke-width="1"/>
<line x1="840.5" x2="840.5" y1="576" y2="586" stroke="#006400" stroke-width="1"/>
<line x1="840.5" x2="840.5" y1="611" y2="615" stroke="#006400" stroke-width="1"/>
<rect x="835.5" y="586.5" width="10" height="24" fill="#fdfdfd" stroke="#006400" stroke-width="1"/>
<line x1="858.5" x2="858.5" y1="629" y2="630" stroke="#700000" stroke-width="1"/>
<rect x="853.5" y="587.5" width="10" height="41" fill="#ff0000" stroke="#700000" stroke-width="1"/>
<line x1="875.5" x2="875.5" y1="637" y2="639" stroke="#700000" stroke-width="1"/>
<line x1="875.5" x2="875.5" y1="672" y2="678" stroke="#700000" stroke-width="1"/>
<rect x="870.5" y="639.5" width="10" height="32" fill="#ff0000" stroke="#700000" stroke-width="1"/>
<line x1="892.5" x2="892.5" y1="655" y2="660" stroke="#006400" stroke-width="1"/>
<rect x="887.5" y="660.5" width="10" height="10" fill="#fdfdfd" stroke="#006400" stroke-width="1"/>
<line x1="910.5" x2="910.5" y1="657" y2="660" stroke="#700000" stroke-width="1"/>
<rect x="905.5" y="660.5" width="10" height="29" fill="#ff0000" stroke="#700000" stroke-width="1"/>
<rect x="922.5" y="690.5" width="10" height="25" fill="#ff0000" stroke="#700000" stroke-width="1"/>
<line x1="944.5" x2="944.5" y1="673" y2="681" stroke="#006400" stroke-width="1"/>
<rect x="939.5" y="681.5" width="10" height="30" fill="#fdfdfd" stroke="#006400" stroke-width="1"/>
<line x1="961.5" x2="961.5" y1="702" y2="712" stroke="#700000" stroke-width="1"/>
<rect x="956.5" y="679.5" width="10" height="22" fill="#ff0000" stroke="#700000" stroke-width="1"/>
<line x1="979.5" x2="979.5" y1="683" y2="690" stroke="#006400" stroke-width="1"/>
<line x1="979.5" x2="979.5" y1="696" y2="698" stroke="#006400" stroke-width="1"/>
<rect x="974.5" y="690.5" width="10" height="5" fill="#fdfdfd" stroke="#006400" stroke-width="1"/>
<line x1="996.5" x2="996.5" y1="682" y2="685" stroke="#700000" stroke-width="1"/>
<line x1="996.5" x2="996.5" y1="720" y2="727" stroke="#700000" stroke-width="1"/>
<rect x="991.5" y="685.5" width="10" height="34" fill="#ff0000" stroke="#700000" stroke-width="1"/>
<line x1="1013.5" x2="1013.5" y1="673" y2="718" stroke="#006400" stroke-width="1"/>
<line x1="1013.5" x2="1013.5" y1="722" y2="723" stroke="#006400" stroke-width="1"/>
<rect x="1008.5" y="718.5" width="10" height="3" fill="#fdfdfd" stroke="#006400" stroke-width="1"/>
<line x1="1031.5" x2="1031.5" y1="689" y2="709" stroke="#700000" stroke-width="1"/>
<line x1="1031.5" x2="1031.5" y1="724" y2="727" stroke="#700000" stroke-width="1"/>
<rect x="1026.5" y="709.5" width="10" height="14" fill="#ff0000" stroke="#700000" stroke-width="1"/>
<line x1="1048.5" x2="1048.5" y1="716" y2="718" stroke="#006400" stroke-width="1"/>
<line x1="1048.5" x2="1048.5" y1="719" y2="735" stroke="#006400" stroke-width="1"/>
<line x1="1043" x2="1054" y1="718.5" y2="718.5" stroke="#006400" stroke-width="1"/>
<line x1="1065.5" x2="1065.5" y1="717" y2="720" stroke="#700000" stroke-width="1"/>
<line x1="1065.5" x2="1065.5" y1="763" y2="770" stroke="#700000" stroke-width="1"/>
<rect x="1060.5" y="720.5" width="10" height="42" fill="#ff0000" stroke="#700000" stroke-width="1"/>
<line x1="1083.5" x2="1083.5" y1="715" y2="722" stroke="#006400" stroke-width="1"/>
<line x1="1083.5" x2="1083.5" y1="760" y2="761" stroke="#006400" stroke-width="1"/>
<rect x="1078.5" y="722.5" width="10" height="37" fill="#fdfdfd" stroke="#006400" stroke-width="1"/>
<line x1="1100.5" x2="1100.5" y1="713" y2="727" stroke="#700000" stroke-width="1"/>
<line x1="1100.5" x2="1100.5" y1="741" y2="750" stroke="#700000" stroke-width="1"/>
<rect x="1095.5" y="727.5" width="10" height="13" fill="#ff0000" stroke="#700000" stroke-width="1"/>
<line x1="1117.5" x2="1117.5" y1="709" y2="715" stroke="#006400" stroke-width="1"/>
<line x1="1117.5" x2="1117.5" y1="726" y2="742" stroke="#006400" stroke-width="1"/>
<rect x="1112.5" y="715.5" width="10" height="10" fill="#fdfdfd" stroke="#006400" stroke-width="1"/>
<line x1="1135.5" x2="1135.5" y1="675" y2="687" stroke="#006400" stroke-width="1"/>
<rect x="1130.5" y="687.5" width="10" height="27" fill="#fdfdfd" stroke="#006400" stroke-width="1"/>
<line x1="1152.5" x2="1152.5" y1="616" y2="681" stroke="#700000" stroke-width="1"/>
<line x1="1152.5" x2="1152.5" y1="690" y2="697" stroke="#700000" stroke-width="1"/>
<rect x="1147.5" y="681.5" width="10" height="8" fill="#ff0000" stroke="#700000" stroke-width="1"/>
<line x1="1169.5" x2="1169.5" y1="717" y2="731" stroke="#700000" stroke-width="1"/>
<rect x="1164.5" y="689.5" width="10" height="27" fill="#ff0000" stroke="#700000" stroke-width="1"/>
<line x1="1187.5" x2="1187.5" y1="734" y2="737" stroke="#700000" stroke-width="1"/>
<rect x="1182.5" y="715.5" width="10" height="18" fill="#ff0000" stroke="#700000" stroke-width="1"/>
<line x1="1204.5" x2="1204.5" y1="734" y2="739" stroke="#700000" stroke-width="1"/>
<line x1="1204.5" x2="1204.5" y1="740" y2="752" stroke="#700000" stroke-width="1"/>
<line x1="1199" x2="1210" y1="739.5" y2="739.5" stroke="#700000" stroke-width="1"/>
<line x1="1221.5" x2="1221.5" y1="727" y2="731" stroke="#700000" stroke-width="1"/>
<line x1="1221.5" x2="1221.5" y1="757" y2="760" stroke="#700000" stroke-width="1"/>
<rect x="1216.5" y="731.5" width="10" height="25" fill="#ff0000" stroke="#700000" stroke-width="1"/>
<line x1="1239.5" x2="1239.5" y1="762" y2="767" stroke="#700000" stroke-width="1"/>
<rect x="1234.5" y="750.5" width="10" height="11" fill="#ff0000" stroke="#700000" stroke-width="1"/>
<line x1="1256.5" x2="1256.5" y1="745" y2="758" stroke="#006400" stroke-width="1"/>
<line x1="1256.5" x2="1256.5" y1="764" y2="770" stroke="#006400" stroke-width="1"/>
<rect x="1251.5" y="758.5" width="10" height="5" fill="#fdfdfd" stroke="#006400" stroke-width="1"/>
<line x1="1273.5" x2="1273.5" y1="758" y2="764" stroke="#006400" stroke-width="1"/>
<rect x="1268.5" y="736.5" width="10" height="21" fill="#fdfdfd" stroke="#006400" stroke-width="1"/>
</g>
<g fill="none" stroke-width="3" stroke-linejoin="round" stroke-linecap="butt">
<polyline points="9.5,223 26.5,234.6 43.5,247.21 61.5,252.74" stroke="#ff0000"/>
<polyline points="61.5,252.74 78.5,234.64 95.5,196.18 113.5,194.25" stroke="#0000ff"/>
<polyline points="113.5,194.25 130.5,220.85 147.5,276.47 165.5,306.62 182.5,335.91 199.5,357.93 217.5,376.08 234.5,398.1 251.5,438.15 269.5,480.77 286.5,508.68 303.5,533.38 320.5,564.3 338.5,572.88 355.5,580.51 372.5,581.47 390.5,596.08" stroke="#ff0000"/>
<polyline points="390.5,596.08 407.5,594.7" stroke="#0000ff"/>
<polyline points="407.5,594.7 424.5,602.5" stroke="#ff0000"/>
<polyline points="424.5,602.5 442.5,601.84" stroke="#0000ff"/>
<polyline points="442.5,601.84 459.5,617.56" stroke="#ff0000"/>
<polyline points="459.5,617.56 476.5,609.67" stroke="#0000ff"/>
<polyline points="476.5,609.67 494.5,609.67" stroke="#ff0000"/>
<polyline points="494.5,609.67 511.5,604.68 528.5,599.74 546.5,596.07 563.5,571.69" stroke="#0000ff"/>
<polyline points="563.5,571.69 580.5,578.28" stroke="#ff0000"/>
<polyline points="580.5,578.28 598.5,576.69 615.5,574.79 632.5,573.28" stroke="#0000ff"/>
<polyline points="632.5,573.28 650.5,585.82 667.5,608.42 684.5,625.11 702.5,627.71 719.5,635.63" stroke="#ff0000"/>
<polyline points="719.5,635.63 736.5,625.35 754.5,612.3" stroke="#0000ff"/>
<polyline points="754.5,612.3 771.5,618.85 788.5,633.43 806.5,650.36" stroke="#ff0000"/>
<polyline points="806.5,650.36 823.5,640.44 840.5,614.72 858.5,609.57" stroke="#0000ff"/>
<polyline points="858.5,609.57 875.5,626.53 892.5,652.85 910.5,673.56 927.5,687.53 944.5,695.1 961.5,699.13" stroke="#ff0000"/>
<polyline points="961.5,699.13 979.5,691.04" stroke="#0000ff"/>
<polyline points="979.5,691.04 996.5,703.56 1013.5,709.15 1031.5,720.49" stroke="#ff0000"/>
<polyline points="1031.5,720.49 1048.5,720.16" stroke="#0000ff"/>
<polyline points="1048.5,720.16 1065.5,734.1" stroke="#ff0000"/>
<polyline points="1065.5,734.1 1083.5,733.76" stroke="#0000ff"/>
<polyline points="1083.5,733.76 1100.5,741.32" stroke="#ff0000"/>
<polyline points="1100.5,741.32 1117.5,725.96 1135.5,713.6 1152.5,697.19" stroke="#0000ff"/>
<polyline points="1152.5,697.19 1169.5,697.5 1187.5,712.53 1204.5,729.65 1221.5,742.99 1239.5,752.33 1256.5,758.83" stroke="#ff0000"/>
<polyline points="1256.5,758.83 1273.5,751.93" stroke="#0000ff"/>
</g>
<g shape-rendering="crispEdges">
<rect x="1" y="771" width="1287" height="13" fill="#add8e6"/>
<rect x="1" y="1026" width="1287" height="14" fill="#add8e6"/>
<rect x="0" y="770" width="1289" height="1" fill="#000"/>
<rect x="0" y="784" width="1360" height="1" fill="#000"/>
<rect x="0" y="1025" width="1289" height="1" fill="#000"/>
<rect x="0" y="1040" width="1360" height="2" fill="#000"/>
<rect x="0" y="14" width="1360" height="1" fill="#000"/>
<rect x="0" y="14" width="1" height="1027" fill="#000"/>
<rect x="1359" y="14" width="1" height="1027" fill="#000"/>
<rect x="1288" y="14" width="1" height="1027" fill="#000"/>
<rect x="1289" y="700" width="3" height="1" fill="#a0a0a0"/>
<rect x="1289" y="690" width="3" height="1" fill="#a0a0a0"/>
<rect x="1289" y="679" width="3" height="1" fill="#a0a0a0"/>
<rect x="1289" y="669" width="3" height="1" fill="#a0a0a0"/>
<rect x="1289" y="658" width="3" height="1" fill="#a0a0a0"/>
<rect x="1289" y="648" width="3" height="1" fill="#a0a0a0"/>
<rect x="1289" y="637" width="3" height="1" fill="#a0a0a0"/>
<rect x="1289" y="626" width="3" height="1" fill="#a0a0a0"/>
<rect x="1289" y="616" width="3" height="1" fill="#a0a0a0"/>
<rect x="1289" y="595" width="3" height="1" fill="#a0a0a0"/>
<rect x="1289" y="584" width="3" height="1" fill="#a0a0a0"/>
<rect x="1289" y="573" width="3" height="1" fill="#a0a0a0"/>
<rect x="1289" y="562" width="3" height="1" fill="#a0a0a0"/>
<rect x="1289" y="552" width="3" height="1" fill="#a0a0a0"/>
<rect x="1289" y="541" width="3" height="1" fill="#a0a0a0"/>
<rect x="1289" y="519" width="3" height="1" fill="#a0a0a0"/>
<rect x="1289" y="507" width="3" height="1" fill="#a0a0a0"/>
<rect x="1289" y="495" width="3" height="1" fill="#a0a0a0"/>
<rect x="1289" y="484" width="3" height="1" fill="#a0a0a0"/>
<rect x="1289" y="460" width="3" height="1" fill="#a0a0a0"/>
<rect x="1289" y="448" width="3" height="1" fill="#a0a0a0"/>
<rect x="1289" y="436" width="3" height="1" fill="#a0a0a0"/>
<rect x="1289" y="414" width="3" height="1" fill="#a0a0a0"/>
<rect x="1289" y="404" width="3" height="1" fill="#a0a0a0"/>
<rect x="1289" y="394" width="3" height="1" fill="#a0a0a0"/>
<rect x="1289" y="373" width="3" height="1" fill="#a0a0a0"/>
<rect x="1289" y="361" width="3" height="1" fill="#a0a0a0"/>
<rect x="1289" y="339" width="3" height="1" fill="#a0a0a0"/>
<rect x="1289" y="329" width="3" height="1" fill="#a0a0a0"/>
<rect x="1289" y="305" width="3" height="1" fill="#a0a0a0"/>
<rect x="1289" y="279" width="3" height="1" fill="#a0a0a0"/>
<rect x="1289" y="255" width="3" height="1" fill="#a0a0a0"/>
<rect x="1289" y="233" width="3" height="1" fill="#a0a0a0"/>
<rect x="1289" y="124" width="3" height="1" fill="#a0a0a0"/>
<rect x="1289" y="98" width="3" height="1" fill="#a0a0a0"/>
<rect x="1289" y="74" width="3" height="1" fill="#a0a0a0"/>
<rect x="1289" y="52" width="3" height="1" fill="#a0a0a0"/>
<rect x="1289" y="721" width="3" height="1" fill="#a0a0a0"/>
<rect x="1289" y="731" width="3" height="1" fill="#a0a0a0"/>
<rect x="1289" y="741" width="3" height="1" fill="#a0a0a0"/>
<rect x="1289" y="751" width="3" height="1" fill="#a0a0a0"/>
<rect x="1289" y="761" width="3" height="1" fill="#a0a0a0"/>
<rect x="1289" y="771" width="3" height="1" fill="#a0a0a0"/>
<rect x="1289" y="781" width="3" height="1" fill="#a0a0a0"/>
<rect x="1289" y="796" width="3" height="1" fill="#a0a0a0"/>
<rect x="1289" y="806" width="3" height="1" fill="#a0a0a0"/>
<rect x="1289" y="816" width="3" height="1" fill="#a0a0a0"/>
<rect x="1289" y="826" width="3" height="1" fill="#a0a0a0"/>
<rect x="1289" y="836" width="3" height="1" fill="#a0a0a0"/>
<rect x="1289" y="846" width="3" height="1" fill="#a0a0a0"/>
<rect x="1289" y="856" width="3" height="1" fill="#a0a0a0"/>
<rect x="1289" y="866" width="3" height="1" fill="#a0a0a0"/>
<rect x="1289" y="876" width="3" height="1" fill="#a0a0a0"/>
<rect x="1289" y="886" width="3" height="1" fill="#a0a0a0"/>
<rect x="1289" y="896" width="3" height="1" fill="#a0a0a0"/>
<rect x="1289" y="906" width="3" height="1" fill="#a0a0a0"/>
<rect x="1289" y="916" width="3" height="1" fill="#a0a0a0"/>
<rect x="1289" y="926" width="3" height="1" fill="#a0a0a0"/>
<rect x="1289" y="936" width="3" height="1" fill="#a0a0a0"/>
<rect x="1289" y="946" width="3" height="1" fill="#a0a0a0"/>
<rect x="1289" y="956" width="3" height="1" fill="#a0a0a0"/>
<rect x="1289" y="966" width="3" height="1" fill="#a0a0a0"/>
<rect x="1289" y="976" width="3" height="1" fill="#a0a0a0"/>
<rect x="1289" y="986" width="3" height="1" fill="#a0a0a0"/>
<rect x="1289" y="996" width="3" height="1" fill="#a0a0a0"/>
<rect x="1289" y="1006" width="3" height="1" fill="#a0a0a0"/>
<rect x="1289" y="1016" width="3" height="1" fill="#a0a0a0"/>
<rect x="1289" y="1026" width="3" height="1" fill="#a0a0a0"/>
<rect x="1289" y="1036" width="3" height="1" fill="#a0a0a0"/>
</g>
<g shape-rendering="crispEdges"><rect x="1288.5" y="736.5" width="47" height="14" fill="#b4f0b4" stroke="#000" stroke-width="1"/></g>
<text x="1295.5" y="714.0" font-size="11" fill="#000000" font-weight="normal" text-anchor="start" textLength="44.5" lengthAdjust="spacing">10.0000</text>
<text x="1295.5" y="609.2425358521475" font-size="11" fill="#000000" font-weight="normal" text-anchor="start" textLength="44.5" lengthAdjust="spacing">15.0000</text>
<text x="1295.5" y="534.2064208945495" font-size="11" fill="#000000" font-weight="normal" text-anchor="start" textLength="44.5" lengthAdjust="spacing">20.0000</text>
<text x="1295.5" y="476.00388840526415" font-size="11" fill="#000000" font-weight="normal" text-anchor="start" textLength="44.5" lengthAdjust="spacing">25.0000</text>
<text x="1295.5" y="428.4489567466969" font-size="11" fill="#000000" font-weight="normal" text-anchor="start" textLength="44.5" lengthAdjust="spacing">30.0000</text>
<text x="1295.5" y="388.2418349273532" font-size="11" fill="#000000" font-weight="normal" text-anchor="start" textLength="44.5" lengthAdjust="spacing">35.0000</text>
<text x="1295.5" y="353.412841789099" font-size="11" fill="#000000" font-weight="normal" text-anchor="start" textLength="44.5" lengthAdjust="spacing">40.0000</text>
<text x="1295.5" y="322.69149259884443" font-size="11" fill="#000000" font-weight="normal" text-anchor="start" textLength="44.5" lengthAdjust="spacing">45.0000</text>
<text x="1295.5" y="295.2103092998137" font-size="11" fill="#000000" font-weight="normal" text-anchor="start" textLength="44.5" lengthAdjust="spacing">50.0000</text>
<text x="1295.5" y="270.35055510145156" font-size="11" fill="#000000" font-weight="normal" text-anchor="start" textLength="44.5" lengthAdjust="spacing">55.0000</text>
<text x="1295.5" y="247.65537764124645" font-size="11" fill="#000000" font-weight="normal" text-anchor="start" textLength="44.5" lengthAdjust="spacing">60.0000</text>
<text x="1295.5" y="226.77783819875793" font-size="11" fill="#000000" font-weight="normal" text-anchor="start" textLength="44.5" lengthAdjust="spacing">65.0000</text>
<text x="1295.5" y="207.4482558219027" font-size="11" fill="#000000" font-weight="normal" text-anchor="start" textLength="44.5" lengthAdjust="spacing">70.0000</text>
<text x="1295.5" y="189.45284515196113" font-size="11" fill="#000000" font-weight="normal" text-anchor="start" textLength="44.5" lengthAdjust="spacing">75.0000</text>
<text x="1295.5" y="172.61926268364846" font-size="11" fill="#000000" font-weight="normal" text-anchor="start" textLength="44.5" lengthAdjust="spacing">80.0000</text>
<text x="1295.5" y="156.8065425752677" font-size="11" fill="#000000" font-weight="normal" text-anchor="start" textLength="44.5" lengthAdjust="spacing">85.0000</text>
<text x="1295.5" y="141.89791349339384" font-size="11" fill="#000000" font-weight="normal" text-anchor="start" textLength="44.5" lengthAdjust="spacing">90.0000</text>
<text x="1295.5" y="114.41673019436303" font-size="11" fill="#000000" font-weight="normal" text-anchor="start" textLength="51.5" lengthAdjust="spacing">100.0000</text>
<text x="1295.5" y="89.55697599600103" font-size="11" fill="#000000" font-weight="normal" text-anchor="start" textLength="51.5" lengthAdjust="spacing">110.0000</text>
<text x="1295.5" y="66.86179853579586" font-size="11" fill="#000000" font-weight="normal" text-anchor="start" textLength="51.5" lengthAdjust="spacing">120.0000</text>
<text x="1295.5" y="45.9842590933074" font-size="11" fill="#000000" font-weight="normal" text-anchor="start" textLength="51.5" lengthAdjust="spacing">130.0000</text>
<text x="1295.5" y="809.2" font-size="11" fill="#000000" font-weight="normal" text-anchor="start" textLength="17" lengthAdjust="spacing">4.0</text>
<text x="1295.5" y="850.2" font-size="11" fill="#000000" font-weight="normal" text-anchor="start" textLength="17" lengthAdjust="spacing">2.0</text>
<text x="1295.5" y="890.2" font-size="11" fill="#000000" font-weight="normal" text-anchor="start" textLength="17" lengthAdjust="spacing">0.0</text>
<text x="1295.5" y="930.2" font-size="11" fill="#000000" font-weight="normal" text-anchor="start" textLength="22" lengthAdjust="spacing">-2.0</text>
<text x="1295.5" y="970.2" font-size="11" fill="#000000" font-weight="normal" text-anchor="start" textLength="22" lengthAdjust="spacing">-4.0</text>
<text x="1295.5" y="1010.2" font-size="11" fill="#000000" font-weight="normal" text-anchor="start" textLength="22" lengthAdjust="spacing">-6.0</text>
<text x="1294.5" y="747.2" font-size="11" fill="#000000" font-weight="normal" text-anchor="start" textLength="37.5" lengthAdjust="spacing">9.0801</text>
<text x="2.5" y="11" font-size="11" fill="#000000" font-weight="bold" text-anchor="start" textLength="37" lengthAdjust="spacing">(MZZ)</text>
<text x="5.5" y="25" font-size="9.5" fill="#006400" font-weight="normal" text-anchor="start" textLength="19.5" lengthAdjust="spacing">MZZ</text>
<text x="33.5" y="25" font-size="9.5" fill="#3300ff" font-weight="normal" text-anchor="start" textLength="27" lengthAdjust="spacing">MA(3)</text>
<text x="69" y="25" font-size="9.5" fill="#3300ff" font-weight="normal" text-anchor="start" textLength="32.5" lengthAdjust="spacing">8.5461</text>
<text x="5.5" y="795" font-size="9.5" fill="#000" font-weight="normal" text-anchor="start" textLength="70" lengthAdjust="spacing">MACD(26,12,9)</text>
<text x="87.5" y="795" font-size="9.5" fill="#3300ff" font-weight="normal" text-anchor="start" textLength="50.5" lengthAdjust="spacing">MACD:0.51</text>
<text x="2.5" y="781" font-size="11" fill="#000000" font-weight="normal" text-anchor="start" textLength="27" lengthAdjust="spacing">2019</text>
<text x="47.6" y="781" font-size="11" fill="#000000" font-weight="normal" text-anchor="start" textLength="26.6" lengthAdjust="spacing">2020</text>
<text x="255.6" y="781" font-size="11" fill="#000000" font-weight="normal" text-anchor="start" textLength="26.6" lengthAdjust="spacing">2021</text>
<text x="462.6" y="781" font-size="11" fill="#000000" font-weight="normal" text-anchor="start" textLength="26.6" lengthAdjust="spacing">2022</text>
<text x="670.6" y="781" font-size="11" fill="#000000" font-weight="normal" text-anchor="start" textLength="26.6" lengthAdjust="spacing">2023</text>
<text x="878.6" y="781" font-size="11" fill="#000000" font-weight="normal" text-anchor="start" textLength="26.6" lengthAdjust="spacing">2024</text>
<text x="1086.6" y="781" font-size="11" fill="#000000" font-weight="normal" text-anchor="start" textLength="26.6" lengthAdjust="spacing">2025</text>
<text x="2.5" y="1036" font-size="11" fill="#000000" font-weight="normal" text-anchor="start" textLength="27" lengthAdjust="spacing">2019</text>
<text x="47.6" y="1036" font-size="11" fill="#000000" font-weight="normal" text-anchor="start" textLength="26.6" lengthAdjust="spacing">2020</text>
<text x="255.6" y="1036" font-size="11" fill="#000000" font-weight="normal" text-anchor="start" textLength="26.6" lengthAdjust="spacing">2021</text>
<text x="462.6" y="1036" font-size="11" fill="#000000" font-weight="normal" text-anchor="start" textLength="26.6" lengthAdjust="spacing">2022</text>
<text x="670.6" y="1036" font-size="11" fill="#000000" font-weight="normal" text-anchor="start" textLength="26.6" lengthAdjust="spacing">2023</text>
<text x="878.6" y="1036" font-size="11" fill="#000000" font-weight="normal" text-anchor="start" textLength="26.6" lengthAdjust="spacing">2024</text>
<text x="1086.6" y="1036" font-size="11" fill="#000000" font-weight="normal" text-anchor="start" textLength="26.6" lengthAdjust="spacing">2025</text>
<text x="1278" y="1052.3" font-size="11.5" fill="#000000" font-weight="normal" text-anchor="start" textLength="81" lengthAdjust="spacing">©12Stocks.com</text>
</svg>
</body></html>
